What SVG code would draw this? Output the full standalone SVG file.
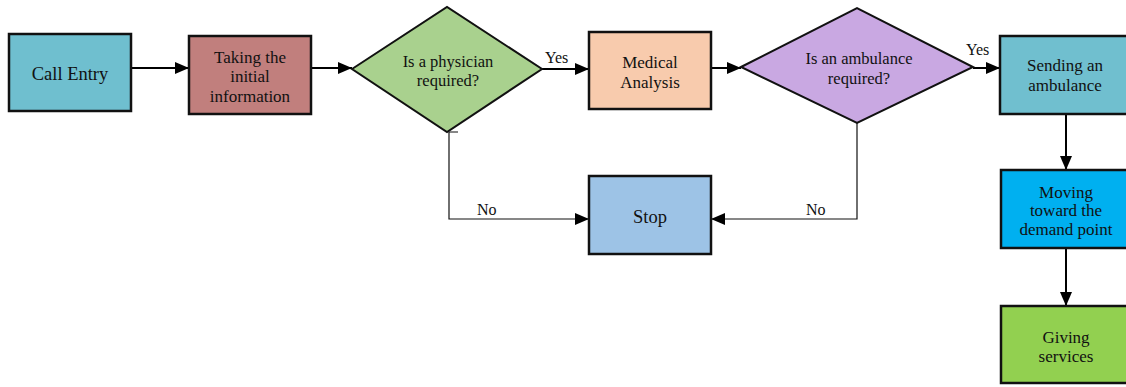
<svg xmlns="http://www.w3.org/2000/svg" width="1126" height="387" viewBox="0 0 1126 387">
<defs>
<style>
.box{stroke:#111;stroke-width:2.5}
.dia{stroke:#111;stroke-width:2}
.t{font-family:"Liberation Serif","Times New Roman",serif;font-size:17px;fill:#111;text-anchor:middle}
.big{font-size:18.5px}
.lbl{font-family:"Liberation Serif","Times New Roman",serif;font-size:16px;fill:#111}
.main{stroke:#000;stroke-width:2;fill:none}
.thin{stroke:#111;stroke-width:1.2;fill:none}
</style>
<marker id="ah" viewBox="0 0 14 12" refX="14" refY="6" markerWidth="14" markerHeight="12" markerUnits="userSpaceOnUse" orient="auto">
<path d="M0,0 L14,6 L0,12 Z" fill="#000"/>
</marker>
</defs>
<rect width="1126" height="387" fill="#fff"/>
<g id="connectors">
<path class="main" d="M131,68 H189" marker-end="url(#ah)"/>
<path class="main" d="M311,68 H352" marker-end="url(#ah)"/>
<path class="main" d="M542,69 H589" marker-end="url(#ah)"/>
<path class="main" d="M711,68 H741" marker-end="url(#ah)"/>
<path class="main" d="M973,68 H1000" marker-end="url(#ah)"/>
<path class="main" d="M1066,114 V170" marker-end="url(#ah)"/>
<path class="main" d="M1066,248 V306" marker-end="url(#ah)"/>
<path class="thin" d="M458,132 H449 V219 H589" marker-end="url(#ah)"/>
<path class="thin" d="M857,123 V219 H711" marker-end="url(#ah)"/>
<text class="lbl" x="545" y="63">Yes</text>
<text class="lbl" x="966" y="55">Yes</text>
<text class="lbl" x="477" y="215">No</text>
<text class="lbl" x="806" y="215">No</text>
</g>
<g id="call-entry">
<rect class="box" x="9" y="34" width="122" height="77" fill="#6fbfcf"/>
<text class="t big" x="70" y="80">Call Entry</text>
</g>
<g id="taking-info">
<rect class="box" x="189" y="36" width="122" height="78" fill="#c17f7d"/>
<text class="t" x="250" y="63">Taking the</text>
<text class="t" x="250" y="82">initial</text>
<text class="t" x="250" y="102">information</text>
</g>
<g id="physician-required">
<polygon class="dia" points="352,69 447,7 542,69 447,132" fill="#a9d18e"/>
<text class="t" x="448" y="67" style="font-size:16.5px">Is a physician</text>
<text class="t" x="448" y="86" style="font-size:16.5px">required?</text>
</g>
<g id="medical-analysis">
<rect class="box" x="589" y="32" width="122" height="77" fill="#f8cbad"/>
<text class="t" x="650" y="68">Medical</text>
<text class="t" x="650" y="88">Analysis</text>
</g>
<g id="ambulance-required">
<polygon class="dia" points="741,67 857,8 973,67 857,123" fill="#c9a8e2"/>
<text class="t" x="859" y="64" style="font-size:16.5px">Is an ambulance</text>
<text class="t" x="859" y="84" style="font-size:16.5px">required?</text>
</g>
<g id="sending-ambulance">
<rect class="box" x="1000" y="36" width="132" height="78" fill="#70bfcf"/>
<text class="t" x="1065" y="71">Sending an</text>
<text class="t" x="1065" y="91">ambulance</text>
</g>
<g id="stop">
<rect class="box" x="589" y="176" width="122" height="78" fill="#9dc3e6"/>
<text class="t big" x="650" y="223">Stop</text>
</g>
<g id="moving">
<rect class="box" x="1001" y="170" width="132" height="78" fill="#00b0f0"/>
<text class="t" x="1066" y="198">Moving</text>
<text class="t" x="1066" y="216">toward the</text>
<text class="t" x="1066" y="235">demand point</text>
</g>
<g id="giving-services">
<rect class="box" x="1001" y="306" width="132" height="77" fill="#92d050"/>
<text class="t" x="1066" y="343">Giving</text>
<text class="t" x="1066" y="362">services</text>
</g>
</svg>
